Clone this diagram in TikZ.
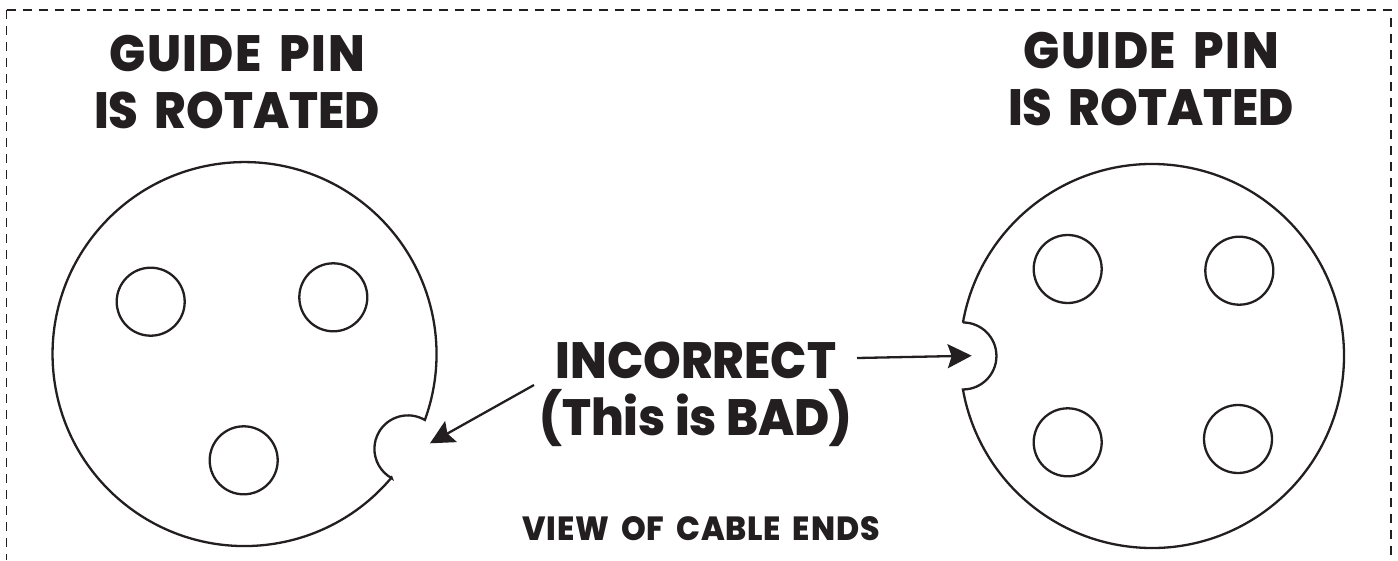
\documentclass[tikz,border=0pt]{standalone}
\usepackage{fontspec}
\setmainfont{Poppins}[BoldFont=Poppins ExtraBold,BoldFeatures={FakeStretch=0.94}]
\usetikzlibrary{arrows.meta}
\definecolor{ink}{RGB}{35,31,32}
\newcommand{\gap}{\hspace{7pt}}
\newcommand{\guidepin}{{\addfontfeature{LetterSpace=3}GUIDE\gap{} PIN}}
\tikzset{
 x=1pt,y=-1pt,
 line/.style={draw=ink,line width=2.3pt,line join=miter},
 pin/.style={circle,draw=ink,line width=2.3pt,minimum size=68pt,inner sep=0pt},
 bigt/.style={text=ink,font=\bfseries\fontsize{51}{57}\selectfont,align=center,inner sep=0pt},
 smallt/.style={text=ink,font=\bfseries\fontsize{33.5}{36}\selectfont,inner sep=0pt},
 arr/.style={draw=ink,line width=2.3pt,-{Stealth[length=24pt,width=24pt,inset=4pt]}}
}
\begin{document}
\begin{tikzpicture}
\useasboundingbox (0,0) rectangle (1398,560);
\draw[draw=ink,line width=1.6pt,dash pattern=on 9pt off 7pt] (6.5,9.7) -- (1390.7,9.7) -- (1390.7,560) (6.5,9.7) -- (6.5,560);
\node[bigt] (t1) at (237,82.5) {\guidepin\\IS\gap{} ROTATED};
\node[bigt] (t2) at (1151,79) {\guidepin\\IS\gap{} ROTATED};
\node[bigt] (t3) at (696,394) {INCORRECT\\(This is BAD)};
\node[smallt] (t4) at (701,529) {\addfontfeature{LetterSpace=2.5}VIEW\hspace{5pt} OF\hspace{5pt} CABLE\hspace{5pt} ENDS};
\draw[line] (391.5,477.6) arc[start angle=40.05,end angle=380.08,radius=192]
  arc[start angle=-59.6,end angle=-241.1,radius=33.5] -- cycle;
\draw[line] (962.94,322.53) arc[start angle=190.04,end angle=529.96,radius=192]
  arc[start angle=90,end angle=-90,radius=33.5] -- cycle;
\node[pin] (a1) at (150.7,301.7) {};
\node[pin] (a2) at (333.3,297.3) {};
\node[pin] (a3) at (243.7,460.3) {};
\node[pin] (b1) at (1067.7,269) {};
\node[pin] (b2) at (1239.3,270.7) {};
\node[pin] (b3) at (1067.7,442.3) {};
\node[pin] (b4) at (1238,439) {};
\coordinate (c1) at (534,385);
\coordinate (c2) at (430,443.3);
\coordinate (c3) at (857,358);
\coordinate (c4) at (971.7,355.7);
\draw[arr] (c1) -- (c2);
\draw[arr] (c3) -- (c4);
\end{tikzpicture}
\end{document}
